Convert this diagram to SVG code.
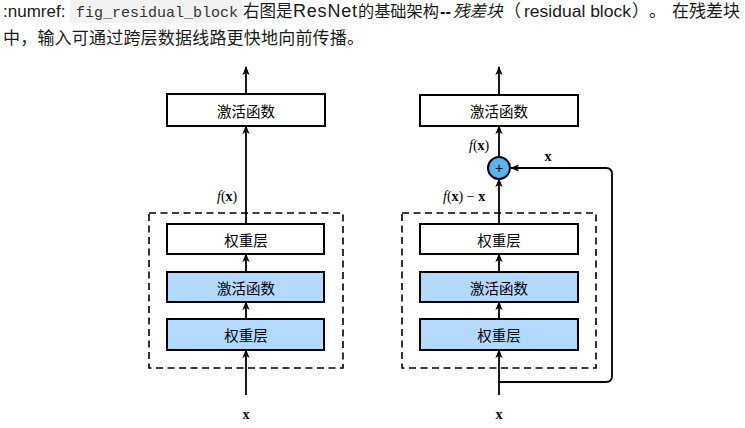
<svg xmlns="http://www.w3.org/2000/svg" width="745" height="428" viewBox="0 0 745 428">
<style>
.body{font-family:"Liberation Sans","Noto Sans CJK SC",sans-serif;font-size:17px;fill:#1a1a1a}
.code{font-family:"Liberation Mono","DejaVu Sans Mono",monospace;font-size:15px;fill:#333}
.box{stroke:#000;stroke-width:2}
.w{fill:#fff}
.b{fill:#b3d9ff}
.lbl{font-family:"Noto Sans CJK SC","Liberation Sans",sans-serif;font-size:14.5px;fill:#000;text-anchor:middle;dominant-baseline:central}
.m{font-family:"Liberation Serif","DejaVu Serif",serif;font-size:14px;fill:#000}
.dash{fill:none;stroke:#000;stroke-width:1.6;stroke-dasharray:7,4.5}
.ar{fill:none;stroke:#000;stroke-width:1.8}
</style>
<defs>
<marker id="ah" viewBox="0 0 10 10" refX="9" refY="5" markerWidth="9" markerHeight="9" markerUnits="userSpaceOnUse" orient="auto">
<path d="M0,1 L10,5 L0,9 L2.5,5 Z" fill="#000"/>
</marker>
</defs>
<rect x="70" y="0" width="172" height="23" fill="#f2f2f2"/>
<text class="body" x="3" y="17">:numref: <tspan class="code" x="76">fig_residual_block</tspan><tspan x="243" font-size="16.5">右图是</tspan><tspan x="293" font-size="18" textLength="64" lengthAdjust="spacing">ResNet</tspan><tspan x="358" font-size="16.2">的基础架构</tspan><tspan x="440" font-size="16.5" font-weight="bold">--</tspan><tspan x="453" font-size="16.5" font-style="italic">残差块</tspan><tspan x="504">（</tspan><tspan x="524" textLength="107" lengthAdjust="spacingAndGlyphs">residual block</tspan><tspan x="632">）</tspan><tspan x="649">。</tspan><tspan x="672">在残差块</tspan></text>
<text class="body" x="3" y="44" letter-spacing="0.2">中，输入可通过跨层数据线路更快地向前传播。</text>
<g id="connectors">
<line class="ar" x1="246" y1="94" x2="246" y2="67" marker-end="url(#ah)"/>
<line class="ar" x1="246" y1="224" x2="246" y2="126" marker-end="url(#ah)"/>
<line class="ar" x1="246" y1="272" x2="246" y2="254" marker-end="url(#ah)"/>
<line class="ar" x1="246" y1="319" x2="246" y2="302" marker-end="url(#ah)"/>
<line class="ar" x1="246" y1="395" x2="246" y2="350" marker-end="url(#ah)"/>
<line class="ar" x1="499" y1="95" x2="499" y2="67" marker-end="url(#ah)"/>
<line class="ar" x1="499" y1="157" x2="499" y2="126" marker-end="url(#ah)"/>
<line class="ar" x1="499" y1="224" x2="499" y2="179" marker-end="url(#ah)"/>
<line class="ar" x1="499" y1="272" x2="499" y2="254" marker-end="url(#ah)"/>
<line class="ar" x1="499" y1="319" x2="499" y2="302" marker-end="url(#ah)"/>
<line class="ar" x1="499" y1="395" x2="499" y2="350" marker-end="url(#ah)"/>
<path class="ar" d="M499,382 H606 Q612,382 612,376 V174 Q612,168 606,168 H511" marker-end="url(#ah)"/>
</g>
<g id="left-block">
<rect class="dash" x="149" y="213" width="194" height="155"/>
</g>
<g id="left-act-top"><rect class="box w" x="167" y="94" width="158" height="32"/><text class="lbl" x="246" y="110">激活函数</text></g>
<g id="left-w2"><rect class="box w" x="167" y="224" width="157" height="30"/><text class="lbl" x="246" y="239">权重层</text></g>
<g id="left-act"><rect class="box b" x="167" y="272" width="157" height="30"/><text class="lbl" x="246" y="287">激活函数</text></g>
<g id="left-w1"><rect class="box b" x="167" y="319" width="157" height="31"/><text class="lbl" x="246" y="334.5">权重层</text></g>
<g id="left-labels">
<text class="m" x="217" y="201"><tspan font-style="italic">f</tspan>(<tspan font-weight="bold">x</tspan>)</text>
<text class="m" x="246" y="419" text-anchor="middle" font-weight="bold">x</text>
</g>
<g id="right-block">
<rect class="dash" x="402" y="213" width="194" height="155"/>
</g>
<g id="right-act-top"><rect class="box w" x="420" y="95" width="158" height="31"/><text class="lbl" x="499" y="110.5">激活函数</text></g>
<g id="right-add"><circle cx="499" cy="168" r="11" fill="#5ab4f2" stroke="#000" stroke-width="2"/><text x="499" y="172.5" text-anchor="middle" font-family="Liberation Sans,sans-serif" font-size="14" fill="#000">+</text></g>
<g id="right-w2"><rect class="box w" x="420" y="224" width="158" height="30"/><text class="lbl" x="499" y="239">权重层</text></g>
<g id="right-act"><rect class="box b" x="420" y="272" width="158" height="30"/><text class="lbl" x="499" y="287">激活函数</text></g>
<g id="right-w1"><rect class="box b" x="420" y="319" width="158" height="31"/><text class="lbl" x="499" y="334.5">权重层</text></g>
<g id="right-labels">
<text class="m" x="469" y="150"><tspan font-style="italic">f</tspan>(<tspan font-weight="bold">x</tspan>)</text>
<text class="m" x="548" y="161" text-anchor="middle" font-weight="bold">x</text>
<text class="m" x="443" y="201"><tspan font-style="italic">f</tspan>(<tspan font-weight="bold">x</tspan>) − <tspan font-weight="bold">x</tspan></text>
<text class="m" x="499" y="419" text-anchor="middle" font-weight="bold">x</text>
</g>
</svg>
